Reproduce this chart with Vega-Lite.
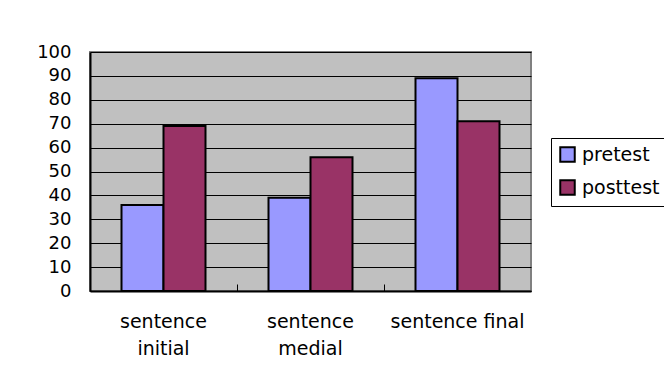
{
  "$schema": "https://vega.github.io/schema/vega-lite/v6.json",
  "autosize": "none",
  "width": 441,
  "height": 239,
  "padding": {"left": 90, "top": 52, "right": 133, "bottom": 85},
  "background": "white",
  "data": {
    "values": [
      {"position": "sentence initial", "test": "pretest", "score": 36},
      {"position": "sentence initial", "test": "posttest", "score": 69},
      {"position": "sentence medial", "test": "pretest", "score": 39},
      {"position": "sentence medial", "test": "posttest", "score": 56},
      {"position": "sentence final", "test": "pretest", "score": 89},
      {"position": "sentence final", "test": "posttest", "score": 71}
    ]
  },
  "mark": {"type": "bar", "stroke": "black", "strokeWidth": 2},
  "encoding": {
    "x": {
      "field": "position",
      "type": "nominal",
      "sort": ["sentence initial", "sentence medial", "sentence final"],
      "scale": {"paddingInner": 0, "paddingOuter": 0},
      "axis": {
        "title": null,
        "labelAngle": 0,
        "bandPosition": 0,
        "labelExpr": "datum.label == 'sentence final' ? datum.label : split(datum.label, ' ')",
        "labelFont": "DejaVu Sans",
        "labelFontSize": 19,
        "labelColor": "black",
        "labelLineHeight": 27,
        "labelPadding": 28,
        "labelBaseline": "top",
        "tickColor": "black",
        "tickWidth": 1,
        "tickSize": -7,
        "domainColor": "black",
        "domainWidth": 2,
        "grid": false
      }
    },
    "xOffset": {
      "field": "test",
      "type": "nominal",
      "sort": ["pretest", "posttest"],
      "scale": {"paddingInner": 0, "paddingOuter": 0.75}
    },
    "y": {
      "field": "score",
      "type": "quantitative",
      "scale": {"domain": [0, 100], "nice": false},
      "axis": {
        "title": null,
        "values": [0, 10, 20, 30, 40, 50, 60, 70, 80, 90, 100],
        "labelFont": "DejaVu Sans",
        "labelFontSize": 18,
        "labelColor": "black",
        "labelPadding": 19,
        "ticks": false,
        "domainColor": "black",
        "domainWidth": 2,
        "grid": true,
        "gridColor": "black",
        "gridWidth": 1,
        "gridOpacity": 1
      }
    },
    "color": {
      "field": "test",
      "type": "nominal",
      "sort": ["pretest", "posttest"],
      "scale": {"domain": ["pretest", "posttest"], "range": ["#9999FF", "#993366"]},
      "legend": {
        "title": null,
        "orient": "none",
        "legendX": 461,
        "legendY": 86,
        "fillColor": "white",
        "strokeColor": "black",
        "padding": 7,
        "symbolType": "square",
        "symbolSize": 210,
        "symbolStrokeColor": "black",
        "symbolStrokeWidth": 2,
        "symbolOpacity": 1,
        "labelFont": "DejaVu Sans",
        "labelFontSize": 19,
        "labelColor": "black",
        "labelOffset": 5,
        "rowPadding": 10
      }
    }
  },
  "config": {
    "view": {"fill": "#C0C0C0", "stroke": "#808080", "strokeWidth": 2}
  }
}
